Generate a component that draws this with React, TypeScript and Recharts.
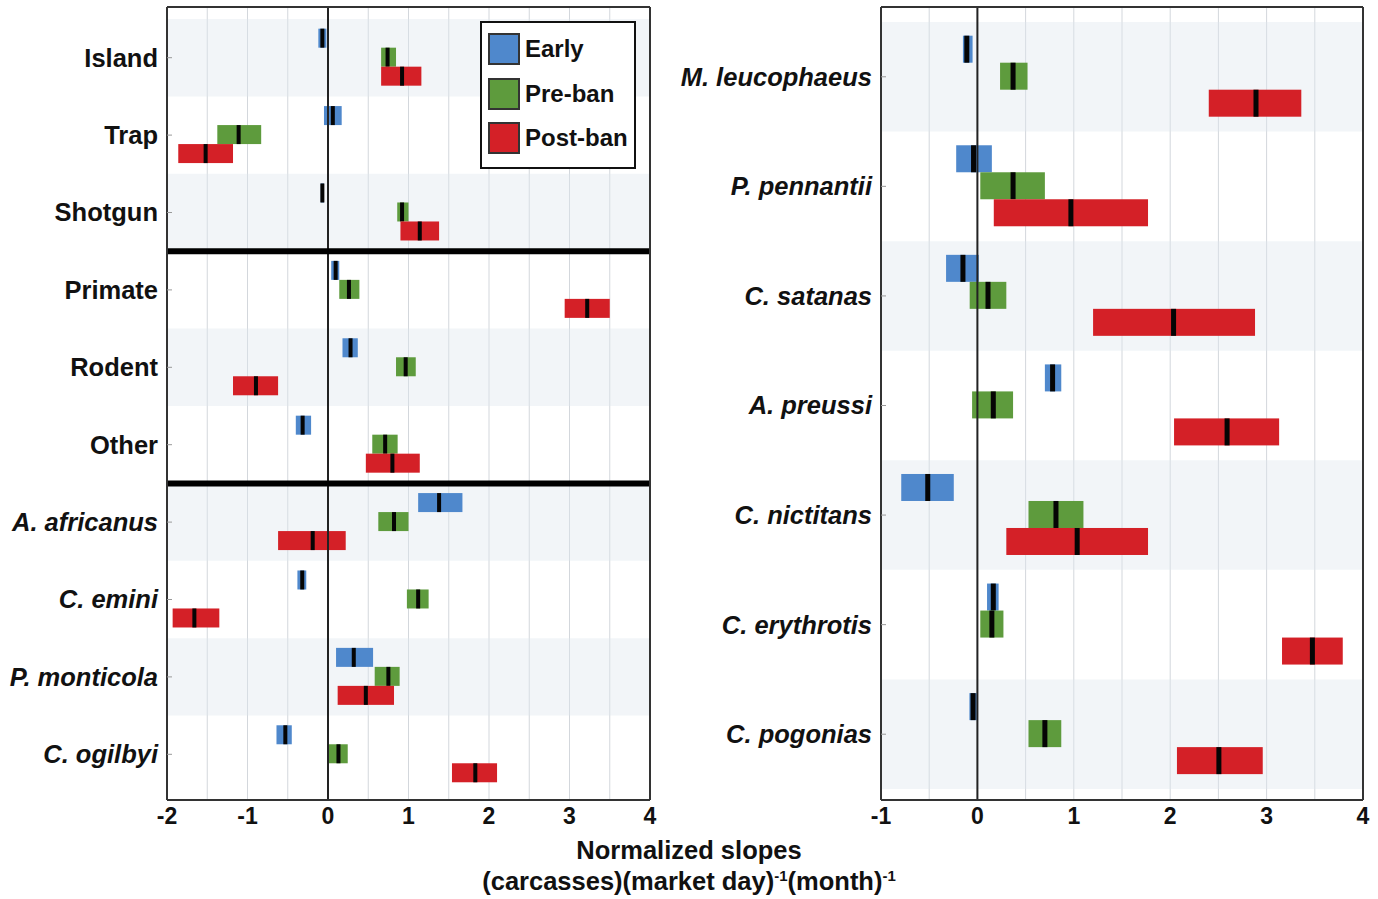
import React from "react";
import {
  ComposedChart,
  Bar,
  XAxis,
  YAxis,
  CartesianGrid,
  ReferenceArea,
  ReferenceLine,
  Legend,
} from "recharts";

// [low, median, high] for each row
const leftRows = [
  "Island",
  "Trap",
  "Shotgun",
  "Primate",
  "Rodent",
  "Other",
  "A. africanus",
  "C. emini",
  "P. monticola",
  "C. ogilbyi",
];
const leftEarly = [
  [-0.12, -0.07, -0.02],
  [-0.05, 0.06, 0.17],
  [-0.09, -0.07, -0.05],
  [0.04, 0.095, 0.14],
  [0.18, 0.28, 0.37],
  [-0.4, -0.315, -0.21],
  [1.12, 1.38, 1.67],
  [-0.38, -0.32, -0.27],
  [0.1, 0.32, 0.56],
  [-0.64, -0.53, -0.45],
];
const leftPreBan = [
  [0.66, 0.74, 0.845],
  [-1.375, -1.11, -0.83],
  [0.86, 0.92, 1.0],
  [0.14, 0.26, 0.39],
  [0.845, 0.965, 1.09],
  [0.55, 0.71, 0.865],
  [0.625, 0.82, 1.0],
  [0.98, 1.12, 1.25],
  [0.58, 0.75, 0.89],
  [0.0, 0.13, 0.245],
];
const leftPostBan = [
  [0.66, 0.92, 1.16],
  [-1.86, -1.52, -1.18],
  [0.9, 1.14, 1.38],
  [2.94, 3.22, 3.5],
  [-1.18, -0.895, -0.62],
  [0.47, 0.8, 1.14],
  [-0.62, -0.19, 0.22],
  [-1.93, -1.66, -1.35],
  [0.12, 0.47, 0.82],
  [1.54, 1.83, 2.1],
];
const leftTicks = [-2, -1.5, -1, -0.5, 0, 0.5, 1, 1.5, 2, 2.5, 3, 3.5, 4];
const leftSeparators = ["Shotgun", "Other"];

const rightRows = [
  "M. leucophaeus",
  "P. pennantii",
  "C. satanas",
  "A. preussi",
  "C. nictitans",
  "C. erythrotis",
  "C. pogonias",
];
const rightEarly = [
  [-0.15, -0.11, -0.05],
  [-0.22, -0.04, 0.15],
  [-0.325, -0.15, 0.014],
  [0.7, 0.78, 0.87],
  [-0.79, -0.515, -0.245],
  [0.1, 0.165, 0.22],
  [-0.083, -0.045, -0.007],
];
const rightPreBan = [
  [0.235, 0.37, 0.52],
  [0.03, 0.37, 0.7],
  [-0.08, 0.11, 0.3],
  [-0.055, 0.165, 0.37],
  [0.53, 0.815, 1.1],
  [0.03, 0.15, 0.27],
  [0.53, 0.7, 0.87],
];
const rightPostBan = [
  [2.4, 2.89, 3.36],
  [0.17, 0.97, 1.77],
  [1.2, 2.035, 2.88],
  [2.04, 2.59, 3.13],
  [0.3, 1.035, 1.77],
  [3.16, 3.475, 3.79],
  [2.07, 2.505, 2.96],
];
const rightTicks = [-1, -0.5, 0, 0.5, 1, 1.5, 2, 2.5, 3, 3.5, 4];

const seriesNames = ["Early", "Pre-ban", "Post-ban"];

const COLORS = {
  early: "#4f88cc",
  pre: "#5e9b3d",
  post: "#d42027",
};

const FONT = '"Liberation Sans", Arial, Helvetica, sans-serif';

function buildRows(rows: string[], early: number[][], pre: number[][], post: number[][]) {
  return rows.map((name, i) => ({ name, early: early[i], pre: pre[i], post: post[i] }));
}

function makeShape(key: string, tickWidth: number) {
  return (props: any) => {
    const { x, y, width, height, payload, fill } = props;
    const [lo, med, hi] = payload[key];
    const w = Math.abs(width);
    const x0 = Math.min(x, x + width);
    const mx = hi > lo ? x0 + (w * (med - lo)) / (hi - lo) : x0 + w / 2;
    return (
      <g>
        <rect x={x0} y={y} width={w} height={height} fill={fill} />
        <rect x={mx - tickWidth / 2} y={y} width={tickWidth} height={height} fill="#050505" />
      </g>
    );
  };
}

function RowTick({ x, y, payload }: any) {
  const italic = String(payload.value).includes(".");
  return (
    <text
      x={x}
      y={y}
      dy="0.35em"
      textAnchor="end"
      fontSize={25.5}
      fontWeight="bold"
      fontStyle={italic ? "italic" : "normal"}
      fill="#111"
      fontFamily={FONT}
    >
      {payload.value}
    </text>
  );
}

function LegendBox({ payload }: any) {
  const items = [...(payload || [])].sort(
    (a: any, b: any) => seriesNames.indexOf(a.value) - seriesNames.indexOf(b.value)
  );
  return (
    <div
      style={{
        border: "2.5px solid #111",
        background: "#fff",
        padding: "4px 4px 6px 6px",
        width: 156,
        boxSizing: "border-box",
        fontFamily: FONT,
      }}
    >
      {items.map((p: any) => (
        <div key={p.value} style={{ display: "flex", alignItems: "center", height: 44.5 }}>
          <span
            style={{
              display: "inline-block",
              width: 28,
              height: 28,
              background: p.color,
              border: "2px solid #333",
              marginRight: 5,
            }}
          />
          <span style={{ fontSize: 24, fontWeight: "bold", color: "#111" }}>{p.value}</span>
        </div>
      ))}
    </div>
  );
}

const frame = { stroke: "#333", strokeWidth: 2 };

interface PanelProps {
  data: { name: string; early: number[]; pre: number[]; post: number[] }[];
  domain: [number, number];
  ticks: number[];
  width: number;
  yWidth: number;
  pad: { top: number; bottom: number };
  tickW: number;
  separators?: string[];
  legend?: boolean;
}

function Panel({ data, domain, ticks, width, yWidth, pad, tickW, separators = [], legend }: PanelProps) {
  return (
    <ComposedChart
      width={width}
      height={840}
      data={data}
      layout="vertical"
      barCategoryGap="12.5%"
      barGap={0}
      margin={{ top: 6, right: 9, left: 0, bottom: 0 }}
    >
      {data.map((d, i) =>
        i % 2 === 0 ? (
          <ReferenceArea
            key={d.name}
            yAxisId="l"
            y1={d.name}
            y2={d.name}
            fill="#dfe5ee"
            fillOpacity={0.4}
            stroke="none"
          />
        ) : null
      )}
      <CartesianGrid yAxisId="l" horizontal={false} stroke="#d3d7dc" />
      <XAxis
        type="number"
        domain={domain}
        ticks={ticks}
        interval={0}
        allowDataOverflow
        height={40}
        tickLine={false}
        axisLine={frame}
        tickFormatter={(v: number) => (Number.isInteger(v) ? String(v) : "")}
        tick={{ fontSize: 23, fontWeight: "bold", fill: "#111", fontFamily: FONT }}
      />
      <XAxis
        xAxisId="top"
        orientation="top"
        type="number"
        domain={domain}
        height={1}
        tick={false}
        tickLine={false}
        axisLine={frame}
      />
      <YAxis
        yAxisId="l"
        type="category"
        dataKey="name"
        width={yWidth}
        padding={pad}
        tickSize={-5}
        tickMargin={14}
        tickLine={{ stroke: "#999" }}
        axisLine={frame}
        tick={<RowTick />}
        interval={0}
      />
      <YAxis
        yAxisId="r"
        orientation="right"
        type="category"
        dataKey="name"
        width={1}
        padding={pad}
        tickSize={-5}
        tickLine={{ stroke: "#999" }}
        axisLine={frame}
        tick={false}
        interval={0}
      />
      <ReferenceLine yAxisId="l" x={0} stroke="#222" strokeWidth={2} />
      {separators.map((s) => (
        <ReferenceLine key={s} yAxisId="l" y={s} position="end" stroke="#000" strokeWidth={6} />
      ))}
      <Bar
        yAxisId="l"
        name={seriesNames[0]}
        dataKey={(d: any) => [d.early[0], d.early[2]]}
        fill={COLORS.early}
        shape={makeShape("early", tickW)}
        isAnimationActive={false}
      />
      <Bar
        yAxisId="l"
        name={seriesNames[1]}
        dataKey={(d: any) => [d.pre[0], d.pre[2]]}
        fill={COLORS.pre}
        shape={makeShape("pre", tickW)}
        isAnimationActive={false}
      />
      <Bar
        yAxisId="l"
        name={seriesNames[2]}
        dataKey={(d: any) => [d.post[0], d.post[2]]}
        fill={COLORS.post}
        shape={makeShape("post", tickW)}
        isAnimationActive={false}
      />
      {legend && (
        <Legend
          layout="vertical"
          align="center"
          verticalAlign="middle"
          content={<LegendBox />}
          wrapperStyle={{ left: 480, top: 21, width: 156 }}
        />
      )}
    </ComposedChart>
  );
}

export default function App() {
  const left = buildRows(leftRows, leftEarly, leftPreBan, leftPostBan);
  const right = buildRows(rightRows, rightEarly, rightPreBan, rightPostBan);
  return (
    <div
      style={{
        position: "absolute",
        left: 0,
        top: 0,
        width: 1378,
        height: 899,
        background: "#fff",
        fontFamily: FONT,
      }}
    >
      <div style={{ position: "absolute", left: 0, top: 0 }}>
        <Panel
          data={left}
          domain={[-2, 4]}
          ticks={leftTicks}
          width={660}
          yWidth={167}
          pad={{ top: 12, bottom: 7 }}
          tickW={4}
          separators={leftSeparators}
          legend
        />
      </div>
      <div style={{ position: "absolute", left: 660, top: 0 }}>
        <Panel
          data={right}
          domain={[-1, 4]}
          ticks={rightTicks}
          width={713}
          yWidth={221}
          pad={{ top: 15, bottom: 11 }}
          tickW={5}
        />
      </div>
      <div
        style={{
          position: "absolute",
          left: 439,
          width: 500,
          top: 835,
          textAlign: "center",
          fontSize: 25.5,
          fontWeight: "bold",
          color: "#111",
          lineHeight: "31px",
        }}
      >
        <div>Normalized slopes</div>
        <div>
          (carcasses)(market day)<sup style={{ fontSize: 15, lineHeight: 0 }}>-1</sup>(month)
          <sup style={{ fontSize: 15, lineHeight: 0 }}>-1</sup>
        </div>
      </div>
    </div>
  );
}
